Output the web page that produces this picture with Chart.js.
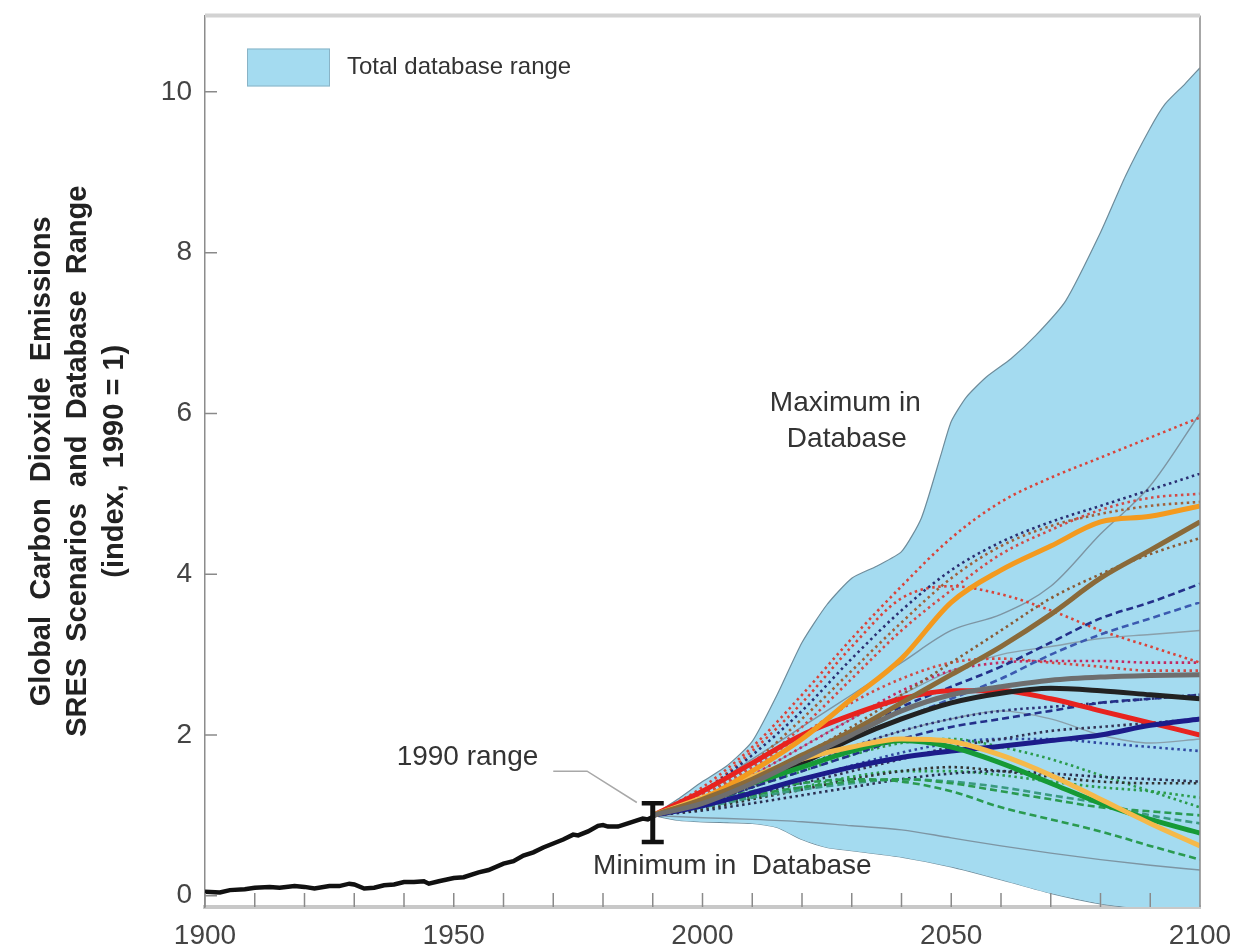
<!DOCTYPE html>
<html>
<head>
<meta charset="utf-8">
<script src="https://cdn.jsdelivr.net/npm/chart.js@4.4.1/dist/chart.umd.min.js"></script>
<style>
  html, body { margin: 0; padding: 0; background: #fff; }
  #wrap { width: 1236px; height: 952px; }
</style>
</head>
<body>
<div id="wrap"><canvas id="co2Chart" width="1236" height="952"></canvas></div>
<script>
// --- data ---
const xTickLabels = [1900, 1950, 2000, 2050, 2100];
const yTickLabels = [0, 2, 4, 6, 8, 10];

// historical emissions 1900-1990
const histYears = [1900, 1903, 1905, 1908, 1910, 1913, 1915, 1918, 1920, 1922, 1925, 1927, 1929, 1930, 1932, 1934, 1936, 1938, 1940, 1942, 1944, 1945, 1947, 1950, 1952, 1955, 1957, 1960, 1962, 1964, 1966, 1968, 1970, 1972, 1974, 1975, 1977, 1979, 1980, 1981, 1983, 1985, 1987, 1988, 1989, 1990];
const histValues = [0.05, 0.04, 0.07, 0.08, 0.10, 0.11, 0.10, 0.12, 0.11, 0.09, 0.12, 0.12, 0.15, 0.14, 0.09, 0.10, 0.13, 0.14, 0.17, 0.17, 0.18, 0.15, 0.18, 0.22, 0.23, 0.29, 0.32, 0.40, 0.43, 0.50, 0.54, 0.60, 0.65, 0.70, 0.76, 0.75, 0.80, 0.87, 0.88, 0.86, 0.86, 0.90, 0.94, 0.96, 0.95, 0.98];

// database range
const maxYears = [1990, 1995, 2000, 2005, 2010, 2015, 2020, 2025, 2030, 2035, 2040, 2044, 2048, 2050, 2053, 2057, 2062, 2067, 2073, 2080, 2085, 2090, 2093, 2097, 2100];
const maxValues = [1.0, 1.2, 1.42, 1.62, 1.92, 2.5, 3.15, 3.62, 3.95, 4.1, 4.28, 4.7, 5.5, 5.9, 6.2, 6.45, 6.68, 6.97, 7.4, 8.25, 8.95, 9.55, 9.85, 10.1, 10.3];
const minYears = [1990, 1995, 2000, 2010, 2015, 2020, 2025, 2030, 2040, 2050, 2060, 2070, 2080, 2090, 2100];
const minValues = [1.0, 0.94, 0.92, 0.9, 0.85, 0.7, 0.6, 0.56, 0.48, 0.36, 0.2, 0.03, -0.1, -0.17, -0.2];

// 1990 range bar and its leader
const range1990 = [0.67, 1.15];
const leaderYears = [1970, 1976.8, 1986.8];
const leaderValues = [1.55, 1.55, 1.16];

// SRES scenarios, 1990-2100 every 10 years
const scenarioYears = [1990, 2000, 2010, 2020, 2030, 2040, 2050, 2060, 2070, 2080, 2090, 2100];
const redThick    = [1, 1.30, 1.65, 2.00, 2.25, 2.45, 2.55, 2.55, 2.45, 2.30, 2.15, 2.00];
const blackThick  = [1, 1.15, 1.40, 1.65, 1.95, 2.20, 2.40, 2.52, 2.58, 2.55, 2.50, 2.45];
const navyThick   = [1, 1.12, 1.28, 1.45, 1.60, 1.72, 1.80, 1.86, 1.93, 2.00, 2.12, 2.20];
const greenThick  = [1, 1.20, 1.40, 1.60, 1.80, 1.93, 1.85, 1.65, 1.40, 1.15, 0.95, 0.78];
const yellowThick = [1, 1.22, 1.48, 1.70, 1.85, 1.95, 1.92, 1.75, 1.50, 1.20, 0.90, 0.62];
const brownThick  = [1, 1.20, 1.45, 1.75, 2.05, 2.40, 2.75, 3.10, 3.50, 3.95, 4.30, 4.65];
const orangeThick = [1, 1.20, 1.55, 1.95, 2.45, 2.95, 3.65, 4.05, 4.35, 4.65, 4.72, 4.85];
const grayThick   = [1, 1.15, 1.40, 1.70, 2.00, 2.30, 2.50, 2.60, 2.68, 2.72, 2.74, 2.75];
const grayHigh    = [1, 1.30, 1.70, 2.10, 2.50, 2.90, 3.30, 3.50, 3.85, 4.50, 5.10, 6.00];
const grayMid     = [1, 1.20, 1.50, 1.85, 2.20, 2.50, 2.80, 3.00, 3.10, 3.20, 3.25, 3.30];
const grayDip     = [1, 1.15, 1.35, 1.60, 1.85, 2.05, 2.20, 2.30, 2.20, 2.00, 1.90, 1.95];
const grayLow     = [1, 0.97, 0.95, 0.92, 0.87, 0.82, 0.72, 0.62, 0.53, 0.45, 0.38, 0.32];
const redDotTop   = [1, 1.35, 1.85, 2.50, 3.20, 3.85, 4.45, 4.90, 5.20, 5.45, 5.70, 5.95];
const navyDotTop  = [1, 1.30, 1.75, 2.30, 2.95, 3.55, 4.05, 4.40, 4.65, 4.85, 5.05, 5.25];
const redDot2     = [1, 1.25, 1.60, 2.10, 2.70, 3.30, 3.80, 4.25, 4.55, 4.80, 4.95, 5.00];
const brownDot    = [1, 1.25, 1.65, 2.20, 2.80, 3.40, 3.95, 4.35, 4.60, 4.75, 4.85, 4.90];
const redDotDown  = [1, 1.30, 1.80, 2.40, 3.10, 3.70, 3.85, 3.75, 3.55, 3.30, 3.10, 2.90];
const brownDot2   = [1, 1.20, 1.45, 1.75, 2.10, 2.50, 2.90, 3.30, 3.70, 4.00, 4.25, 4.45];
const magentaDot  = [1, 1.20, 1.50, 1.85, 2.20, 2.55, 2.80, 2.90, 2.92, 2.92, 2.90, 2.90];
const redDot3     = [1, 1.25, 1.60, 2.00, 2.40, 2.70, 2.90, 2.95, 2.90, 2.85, 2.80, 2.80];
const navyDotMid  = [1, 1.15, 1.35, 1.60, 1.85, 2.05, 2.20, 2.30, 2.35, 2.40, 2.45, 2.50];
const darkDot     = [1, 1.10, 1.25, 1.40, 1.55, 1.70, 1.85, 1.95, 2.05, 2.10, 2.15, 2.20];
const blackDotLow = [1, 1.08, 1.20, 1.32, 1.45, 1.55, 1.60, 1.55, 1.48, 1.42, 1.40, 1.40];
const greenDot    = [1, 1.10, 1.22, 1.35, 1.48, 1.55, 1.55, 1.50, 1.42, 1.35, 1.30, 1.22];
const blueDot     = [1, 1.12, 1.28, 1.45, 1.62, 1.78, 1.90, 1.95, 1.95, 1.90, 1.85, 1.80];
const greenDot2   = [1, 1.15, 1.35, 1.55, 1.75, 1.90, 1.95, 1.85, 1.70, 1.50, 1.30, 1.10];
const darkDotLow2 = [1, 1.06, 1.15, 1.25, 1.35, 1.45, 1.52, 1.55, 1.52, 1.48, 1.45, 1.42];
const navyDash    = [1, 1.20, 1.45, 1.75, 2.05, 2.35, 2.60, 2.85, 3.15, 3.45, 3.65, 3.88];
const blueDash    = [1, 1.18, 1.40, 1.65, 1.95, 2.20, 2.45, 2.70, 3.00, 3.25, 3.45, 3.65];
const navyDash2   = [1, 1.15, 1.35, 1.55, 1.75, 1.95, 2.10, 2.20, 2.30, 2.40, 2.45, 2.50];
const greenDash   = [1, 1.15, 1.30, 1.40, 1.45, 1.42, 1.30, 1.10, 0.95, 0.80, 0.62, 0.45];
const greenDash2  = [1, 1.12, 1.25, 1.35, 1.42, 1.45, 1.40, 1.30, 1.20, 1.10, 1.05, 1.00];
const tealDash    = [1, 1.10, 1.22, 1.32, 1.40, 1.45, 1.42, 1.35, 1.25, 1.15, 1.00, 0.90];

// --- styles ---
const THIN = { width: 1.4, dash: [] };
const DOT = { width: 2.6, dash: [2.5, 3.5] };
const DASH = { width: 2.6, dash: [7, 4] };
const THICK = { width: 5, dash: [] };

const scenarios = [
    { values: grayLow, color: '#7d95a3', kind: THIN },
    { values: grayHigh, color: '#7d95a3', kind: THIN },
    { values: grayMid, color: '#8aa0ab', kind: THIN },
    { values: grayDip, color: '#8aa0ab', kind: THIN },
    { values: redDotTop, color: '#d9443a', kind: DOT },
    { values: navyDotTop, color: '#2b2e72', kind: DOT },
    { values: redDot2, color: '#d24a45', kind: DOT },
    { values: brownDot, color: '#a0603a', kind: DOT },
    { values: redDotDown, color: '#d9443a', kind: DOT },
    { values: brownDot2, color: '#8a5a35', kind: DOT },
    { values: magentaDot, color: '#c22a62', kind: DOT },
    { values: redDot3, color: '#d24a45', kind: DOT },
    { values: navyDotMid, color: '#2b2e72', kind: DOT },
    { values: darkDot, color: '#333355', kind: DOT },
    { values: blackDotLow, color: '#333333', kind: DOT },
    { values: darkDotLow2, color: '#2b2e50', kind: DOT },
    { values: greenDot, color: '#2a9a4a', kind: DOT },
    { values: blueDot, color: '#3048a0', kind: DOT },
    { values: greenDot2, color: '#2a9a4a', kind: DOT },
    { values: navyDash, color: '#24308a', kind: DASH },
    { values: blueDash, color: '#3b5ab0', kind: DASH },
    { values: navyDash2, color: '#24308a', kind: DASH },
    { values: greenDash, color: '#2a9a50', kind: DASH },
    { values: greenDash2, color: '#2a9a50', kind: DASH },
    { values: tealDash, color: '#3a9a80', kind: DASH },
    { values: grayThick, color: '#6e6e6e', kind: THICK },
    { values: brownThick, color: '#8a6a3a', kind: THICK },
    { values: orangeThick, color: '#f39a1f', kind: THICK },
    { values: yellowThick, color: '#f5b94a', kind: THICK },
    { values: greenThick, color: '#169a36', kind: THICK },
    { values: navyThick, color: '#1c1c8a', kind: THICK },
    { values: blackThick, color: '#222222', kind: THICK },
    { values: redThick, color: '#e8231f', kind: THICK }
];

const notes = [
    { text: 'Maximum in', x: 2028.7, y: 6.13, align: 'center' },
    { text: 'Database', x: 2029, y: 5.68, align: 'center' },
    { text: '1990 range', x: 1967, y: 1.72, align: 'right' },
    { text: 'Minimum in  Database', x: 2006, y: 0.37, align: 'center' }
];

const pts = (xs, ys) => xs.map((x, i) => ({ x: x, y: ys[i] }));

const AREA_FILL = 'rgb(164, 219, 240)';
const AREA_EDGE = 'rgb(110, 140, 155)';
const FONT = '"Liberation Sans", Arial, sans-serif';

const datasets = [
    {
        label: 'Total database range',
        data: pts(maxYears, maxValues),
        borderColor: AREA_EDGE,
        borderWidth: 1.2,
        backgroundColor: AREA_FILL,
        fill: '+1',
        pointRadius: 0,
        tension: 0.2,
        order: 10
    },
    {
        label: 'min',
        data: pts(minYears, minValues),
        borderColor: AREA_EDGE,
        borderWidth: 1.2,
        backgroundColor: AREA_FILL,
        fill: false,
        pointRadius: 0,
        tension: 0.2,
        order: 10
    }
];

scenarios.forEach((s, i) => {
    const rank = s.kind === THIN ? 8 : s.kind === DOT ? 7 : s.kind === DASH ? 6 : 5;
    datasets.push({
        label: 'scenario ' + i,
        data: pts(scenarioYears, s.values),
        borderColor: s.color,
        borderWidth: s.kind.width,
        borderDash: s.kind.dash,
        borderCapStyle: 'butt',
        fill: false,
        pointRadius: 0,
        cubicInterpolationMode: 'monotone',
        order: rank
    });
});

datasets.push({
    label: 'history',
    data: pts(histYears, histValues),
    borderColor: '#111',
    borderWidth: 4.5,
    fill: false,
    pointRadius: 0,
    tension: 0,
    order: 2
});

datasets.push({
    label: 'leader',
    data: pts(leaderYears, leaderValues),
    borderColor: '#a8a8a8',
    borderWidth: 1.5,
    fill: false,
    pointRadius: 0,
    tension: 0,
    order: 3
});

datasets.push({
    label: '1990 range',
    data: range1990.map(v => ({ x: 1990, y: v })),
    borderColor: '#111',
    borderWidth: 5,
    pointStyle: 'line',
    pointRadius: 11,
    pointBorderWidth: 4.5,
    pointBorderColor: '#111',
    fill: false,
    tension: 0,
    order: 1
});

// ticks inside the frame, top/right frame, legend swatch, text notes
const frameAndNotes = {
    id: 'frameAndNotes',
    afterDatasetsDraw(chart) {
        const { ctx, chartArea: a, scales: { x, y } } = chart;
        ctx.save();
        ctx.strokeStyle = '#8a8a8a';
        ctx.lineWidth = 1.5;
        ctx.beginPath();
        x.ticks.forEach(t => {
            const px = x.getPixelForValue(t.value);
            ctx.moveTo(px, a.bottom);
            ctx.lineTo(px, a.bottom - 14);
        });
        y.ticks.forEach(t => {
            const py = y.getPixelForValue(t.value);
            ctx.moveTo(a.left, py);
            ctx.lineTo(a.left + 12, py);
        });
        ctx.moveTo(a.right, a.top);
        ctx.lineTo(a.right, a.bottom);
        ctx.stroke();

        ctx.strokeStyle = '#d2d2d2';
        ctx.lineWidth = 4;
        ctx.beginPath();
        ctx.moveTo(a.left, a.top);
        ctx.lineTo(a.right, a.top);
        ctx.stroke();

        // legend
        const area = chart.data.datasets[0];
        const bx = a.left + 42, by = a.top + 33;
        ctx.fillStyle = area.backgroundColor;
        ctx.fillRect(bx, by, 83, 38);
        ctx.strokeStyle = 'rgba(110, 140, 155, 0.5)';
        ctx.lineWidth = 1;
        ctx.strokeRect(bx + 0.5, by + 0.5, 82, 37);
        ctx.fillStyle = '#333';
        ctx.font = '24px ' + FONT;
        ctx.textAlign = 'left';
        ctx.textBaseline = 'middle';
        ctx.fillText(area.label, bx + 100, by + 19);

        ctx.font = '28px ' + FONT;
        notes.forEach(n => {
            ctx.textAlign = n.align;
            ctx.fillText(n.text, x.getPixelForValue(n.x), y.getPixelForValue(n.y));
        });
        ctx.restore();
    }
};

const tickFont = { family: FONT, size: 28 };

new Chart(document.getElementById('co2Chart').getContext('2d'), {
    type: 'line',
    data: { datasets: datasets },
    options: {
        responsive: false,
        animation: false,
        events: [],
        layout: { padding: { left: 4, right: 36, top: 12, bottom: 0 } },
        scales: {
            x: {
                type: 'linear',
                min: 1900,
                max: 2100,
                grid: { display: false, drawTicks: false },
                border: { color: '#c8c8c8', width: 4 },
                ticks: {
                    stepSize: 10,
                    autoSkip: false,
                    maxRotation: 0,
                    padding: 12,
                    color: '#444',
                    font: tickFont,
                    callback: v => xTickLabels.includes(v) ? String(v) : ''
                },
                afterFit: scale => {
                    scale.height = 45;
                    scale.paddingLeft = 0;
                    scale.paddingRight = 0;
                }
            },
            y: {
                type: 'linear',
                min: -0.14,
                max: 10.95,
                grid: { display: false, drawTicks: false },
                border: { color: '#8c8c8c', width: 1.5 },
                ticks: {
                    stepSize: 2,
                    includeBounds: false,
                    padding: 13,
                    color: '#444',
                    font: tickFont,
                    callback: v => yTickLabels.includes(v) ? String(v) : ''
                },
                title: {
                    display: true,
                    text: ['Global  Carbon  Dioxide  Emissions', 'SRES  Scenarios  and  Database  Range', '(index,  1990 = 1)'],
                    color: '#222',
                    font: { family: FONT, size: 29, weight: 'bold', lineHeight: 1.25 },
                    padding: { top: 20, bottom: 0 }
                },
                afterFit: scale => {
                    scale.width = 201;
                    scale.paddingTop = 0;
                    scale.paddingBottom = 0;
                }
            }
        },
        plugins: {
            legend: { display: false },
            tooltip: { enabled: false }
        }
    },
    plugins: [frameAndNotes]
});
</script>
</body>
</html>
